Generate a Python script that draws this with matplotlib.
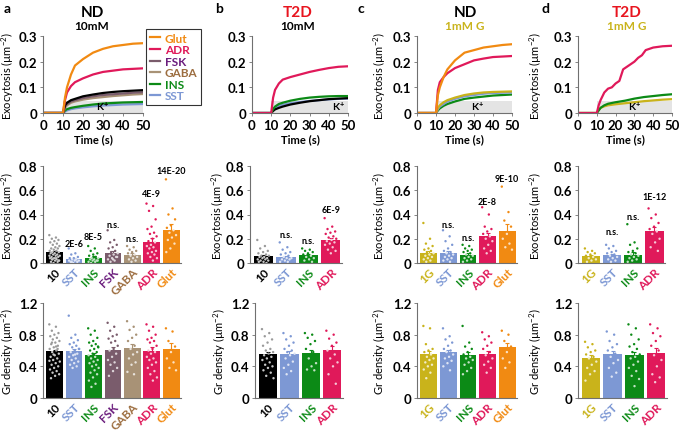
import matplotlib
matplotlib.use("Agg")
import matplotlib.pyplot as plt
from matplotlib.lines import Line2D
from matplotlib.colors import to_rgb

plt.rcParams['font.family'] = ['Lato', 'DejaVu Sans']
plt.rcParams['mathtext.default'] = 'regular'

W, H = 681, 431

# ---------------- colours ----------------
C_10 = '#000000'
C_SST = '#7d98d4'
C_INS = '#0c8a16'
C_FSK = '#7a5c6c'
C_GABA = '#a89276'
C_ADR = '#e0195a'
C_GLUT = '#f18a12'
C_1G = '#c9b31b'
T_FSK = '#6b1d7d'
T_GABA = '#9c6d3f'
C_T2D = '#e8141e'

# ---------------- traces (top row) ----------------
t = [0, 10, 11, 12, 14, 16, 20, 25, 30, 35, 40, 45, 50]

a_glut = [0, 0, 0.06, 0.10, 0.15, 0.185, 0.21, 0.235, 0.25, 0.26, 0.265, 0.27, 0.272]
a_adr = [0, 0, 0.05, 0.08, 0.105, 0.12, 0.135, 0.15, 0.16, 0.165, 0.17, 0.172, 0.174]
a_10 = [0, 0, 0.03, 0.04, 0.05, 0.055, 0.065, 0.072, 0.078, 0.082, 0.085, 0.087, 0.089]
a_fsk = [0, 0, 0.025, 0.035, 0.045, 0.05, 0.058, 0.065, 0.07, 0.073, 0.076, 0.079, 0.081]
a_gaba = [0, 0, 0.02, 0.03, 0.04, 0.045, 0.052, 0.058, 0.062, 0.066, 0.069, 0.072, 0.074]
a_ins = [0, 0, 0.01, 0.015, 0.02, 0.023, 0.028, 0.033, 0.037, 0.039, 0.041, 0.042, 0.043]
a_sst = [0, 0, 0.005, 0.01, 0.015, 0.018, 0.022, 0.026, 0.029, 0.031, 0.033, 0.034, 0.035]

b_adr = [0, 0, 0.06, 0.09, 0.115, 0.13, 0.14, 0.15, 0.16, 0.168, 0.175, 0.18, 0.182]
b_ins = [0, 0, 0.015, 0.025, 0.035, 0.04, 0.048, 0.055, 0.06, 0.063, 0.065, 0.066, 0.066]
b_10 = [0, 0, 0.008, 0.014, 0.02, 0.025, 0.033, 0.04, 0.046, 0.05, 0.054, 0.056, 0.058]
b_sst = [0, 0, 0.01, 0.02, 0.028, 0.032, 0.038, 0.043, 0.047, 0.05, 0.053, 0.055, 0.056]

c_glut = [0, 0, 0.07, 0.10, 0.14, 0.17, 0.205, 0.235, 0.245, 0.255, 0.26, 0.265, 0.268]
c_adr = [0, 0, 0.09, 0.12, 0.14, 0.155, 0.175, 0.19, 0.205, 0.212, 0.218, 0.22, 0.222]
c_1g = [0, 0, 0.02, 0.03, 0.042, 0.05, 0.06, 0.07, 0.076, 0.08, 0.082, 0.083, 0.084]
c_sst = [0, 0, 0.015, 0.025, 0.035, 0.045, 0.055, 0.065, 0.07, 0.075, 0.078, 0.079, 0.08]
c_ins = [0, 0, 0.01, 0.018, 0.028, 0.035, 0.045, 0.055, 0.06, 0.064, 0.068, 0.07, 0.072]

t_d_adr = [0, 10, 11, 12, 14, 16, 18, 20, 22, 24, 26, 28, 30, 32, 34, 36, 38, 40, 45, 50]
d_adr = [0, 0, 0.03, 0.05, 0.08, 0.095, 0.10, 0.115, 0.125, 0.17, 0.18, 0.19, 0.20,
         0.215, 0.225, 0.245, 0.25, 0.255, 0.26, 0.262]
d_ins = [0, 0, 0.01, 0.02, 0.03, 0.036, 0.042, 0.048, 0.056, 0.062, 0.066, 0.07, 0.073]
d_1g = [0, 0, 0.012, 0.02, 0.026, 0.03, 0.034, 0.038, 0.042, 0.046, 0.049, 0.052, 0.054]

k_level = 0.048

# ---------------- exocytosis (middle row) ----------------
ma_labels = ['10', 'SST', 'INS', 'FSK', 'GABA', 'ADR', 'Glut']
ma_means = [0.09, 0.035, 0.045, 0.08, 0.07, 0.175, 0.275]
ma_sems = [0.008, 0.008, 0.009, 0.015, 0.012, 0.03, 0.045]
ma_sig = ['', '2E-6', '8E-5', 'n.s.', 'n.s.', '4E-9', '14E-20']
ma_pts = [
    [0.23, 0.21, 0.2, 0.19, 0.18, 0.17, 0.16, 0.15, 0.14, 0.13, 0.12, 0.12, 0.11, 0.1, 0.1, 0.09,
     0.09, 0.08, 0.08, 0.07, 0.07, 0.06, 0.06, 0.05, 0.05, 0.04, 0.04, 0.03, 0.03, 0.02, 0.02,
     0.01, 0.01, 0.0, 0.06, 0.04, 0.03, 0.02],
    [0.12, 0.08, 0.07, 0.05, 0.04, 0.04, 0.03, 0.03, 0.02, 0.02, 0.01, 0.01, 0.0, 0.02, 0.03, 0.01],
    [0.14, 0.12, 0.1, 0.08, 0.07, 0.06, 0.05, 0.04, 0.04, 0.03, 0.03, 0.02, 0.02, 0.01, 0.01, 0.0, 0.02, 0.05],
    [0.27, 0.19, 0.17, 0.15, 0.13, 0.12, 0.1, 0.09, 0.08, 0.07, 0.06, 0.05, 0.04, 0.03, 0.02, 0.01, 0.05, 0.03],
    [0.14, 0.13, 0.11, 0.1, 0.09, 0.08, 0.07, 0.06, 0.05, 0.04, 0.03, 0.02, 0.01],
    [0.49, 0.47, 0.43, 0.36, 0.3, 0.28, 0.25, 0.24, 0.22, 0.2, 0.18, 0.17, 0.15, 0.14, 0.13, 0.12,
     0.1, 0.09, 0.08, 0.07, 0.05, 0.04, 0.02],
    [0.69, 0.45, 0.4, 0.36, 0.31, 0.29, 0.27, 0.25, 0.23, 0.21, 0.19, 0.16, 0.12, 0.09],
]

mb_labels = ['10', 'SST', 'INS', 'ADR']
mb_means = [0.055, 0.05, 0.065, 0.19]
mb_sems = [0.008, 0.01, 0.01, 0.02]
mb_sig = ['', 'n.s.', 'n.s.', '6E-9']
mb_pts = [
    [0.19, 0.14, 0.12, 0.1, 0.09, 0.08, 0.07, 0.06, 0.06, 0.05, 0.05, 0.04, 0.04, 0.03, 0.03, 0.02,
     0.02, 0.01, 0.01, 0.0],
    [0.17, 0.13, 0.11, 0.09, 0.08, 0.07, 0.06, 0.05, 0.04, 0.04, 0.03, 0.03, 0.02, 0.01, 0.01],
    [0.12, 0.11, 0.1, 0.09, 0.08, 0.07, 0.06, 0.05, 0.04, 0.03, 0.02, 0.01],
    [0.37, 0.3, 0.28, 0.26, 0.25, 0.24, 0.22, 0.21, 0.2, 0.19, 0.18, 0.17, 0.16, 0.15, 0.13, 0.11, 0.1, 0.08],
]

mc_labels = ['1G', 'SST', 'INS', 'ADR', 'Glut']
mc_means = [0.085, 0.08, 0.07, 0.22, 0.265]
mc_sems = [0.015, 0.015, 0.01, 0.03, 0.055]
mc_sig = ['', 'n.s.', 'n.s.', '2E-8', '9E-10']
mc_pts = [
    [0.33, 0.2, 0.16, 0.14, 0.12, 0.11, 0.1, 0.09, 0.08, 0.07, 0.06, 0.05, 0.04, 0.03, 0.02, 0.01],
    [0.27, 0.22, 0.18, 0.15, 0.12, 0.1, 0.09, 0.08, 0.07, 0.06, 0.05, 0.04, 0.03, 0.02, 0.01],
    [0.15, 0.14, 0.12, 0.11, 0.1, 0.09, 0.08, 0.07, 0.06, 0.05, 0.04, 0.03, 0.02, 0.01],
    [0.46, 0.4, 0.3, 0.28, 0.26, 0.24, 0.22, 0.2, 0.18, 0.15, 0.12, 0.1, 0.08],
    [0.63, 0.42, 0.35, 0.3, 0.24, 0.2, 0.16, 0.13, 0.11],
]

md_labels = ['1G', 'SST', 'INS', 'ADR']
md_means = [0.055, 0.065, 0.07, 0.265]
md_sems = [0.008, 0.01, 0.02, 0.03]
md_sig = ['', 'n.s.', 'n.s.', '1E-12']
md_pts = [
    [0.12, 0.1, 0.09, 0.08, 0.07, 0.06, 0.05, 0.04, 0.03, 0.02, 0.01],
    [0.15, 0.14, 0.12, 0.1, 0.09, 0.08, 0.07, 0.06, 0.05, 0.04, 0.03, 0.02, 0.01],
    [0.32, 0.17, 0.15, 0.12, 0.1, 0.09, 0.08, 0.07, 0.06, 0.05, 0.04, 0.03, 0.02, 0.01],
    [0.45, 0.4, 0.37, 0.33, 0.3, 0.28, 0.26, 0.24, 0.2, 0.17, 0.13, 0.1],
]

# heights where the p-value labels sit (annotation layout)
ma_sig_y = [0, 0.164, 0.22, 0.32, 0.2, 0.57, 0.76]
mb_sig_y = [0, 0.235, 0.186, 0.44]
mc_sig_y = [0, 0.32, 0.21, 0.51, 0.70]
md_sig_y = [0, 0.26, 0.385, 0.55]

# ---------------- granule density (bottom row) ----------------
ga_means = [0.59, 0.59, 0.54, 0.61, 0.63, 0.60, 0.62]
ga_sems = [0.02, 0.03, 0.03, 0.04, 0.05, 0.04, 0.07]
ga_pts = [
    [0.93, 0.9, 0.85, 0.82, 0.8, 0.78, 0.76, 0.74, 0.72, 0.7, 0.68, 0.66, 0.64, 0.62, 0.6, 0.58, 0.56,
     0.54, 0.52, 0.5, 0.48, 0.46, 0.44, 0.42, 0.4, 0.38, 0.36, 0.34, 0.32, 0.3, 0.28, 0.25, 0.62,
     0.55, 0.47, 0.65, 0.7],
    [1.04, 0.8, 0.76, 0.73, 0.7, 0.68, 0.66, 0.64, 0.62, 0.6, 0.58, 0.56, 0.54, 0.52, 0.5, 0.48, 0.46,
     0.44, 0.42, 0.4, 0.38, 0.62, 0.55],
    [0.88, 0.85, 0.8, 0.76, 0.72, 0.7, 0.68, 0.66, 0.64, 0.62, 0.6, 0.58, 0.56, 0.54, 0.52, 0.5, 0.48,
     0.46, 0.44, 0.42, 0.4, 0.38, 0.35, 0.32, 0.3, 0.26, 0.22, 0.18, 0.14, 0.65, 0.55],
    [0.95, 0.9, 0.85, 0.8, 0.78, 0.75, 0.72, 0.7, 0.66, 0.62, 0.6, 0.56, 0.52, 0.48, 0.45, 0.42, 0.38, 0.34, 0.28],
    [0.97, 0.9, 0.86, 0.8, 0.76, 0.72, 0.66, 0.62, 0.58, 0.55, 0.5, 0.45, 0.42, 0.33, 0.3],
    [0.93, 0.9, 0.85, 0.8, 0.76, 0.74, 0.72, 0.7, 0.66, 0.62, 0.6, 0.58, 0.56, 0.52, 0.5, 0.48, 0.45,
     0.42, 0.38, 0.34, 0.3, 0.26, 0.22],
    [0.88, 0.84, 0.72, 0.65, 0.58, 0.5, 0.45, 0.38, 0.35],
]

gb_means = [0.55, 0.56, 0.57, 0.61]
gb_sems = [0.03, 0.03, 0.04, 0.05]
gb_pts = [
    [0.87, 0.82, 0.78, 0.74, 0.7, 0.66, 0.62, 0.6, 0.58, 0.56, 0.54, 0.52, 0.5, 0.48, 0.45, 0.42, 0.4,
     0.38, 0.35, 0.32, 0.28, 0.25],
    [0.82, 0.78, 0.74, 0.7, 0.66, 0.62, 0.6, 0.58, 0.56, 0.54, 0.5, 0.46, 0.42, 0.38, 0.34, 0.3],
    [0.82, 0.8, 0.76, 0.72, 0.68, 0.62, 0.58, 0.5, 0.44, 0.4, 0.36, 0.35],
    [0.85, 0.8, 0.75, 0.7, 0.66, 0.6, 0.55, 0.5, 0.45, 0.4, 0.3, 0.18],
]

gc_means = [0.56, 0.58, 0.54, 0.56, 0.64]
gc_sems = [0.04, 0.03, 0.04, 0.04, 0.06]
gc_pts = [
    [0.91, 0.88, 0.68, 0.62, 0.6, 0.58, 0.55, 0.52, 0.5, 0.48, 0.45, 0.42, 0.4, 0.36, 0.32, 0.25],
    [0.88, 0.78, 0.74, 0.7, 0.66, 0.62, 0.6, 0.58, 0.55, 0.52, 0.5, 0.47, 0.44, 0.4, 0.35],
    [0.91, 0.7, 0.65, 0.62, 0.58, 0.55, 0.52, 0.5, 0.48, 0.45, 0.42, 0.38, 0.34, 0.3],
    [0.83, 0.78, 0.74, 0.7, 0.66, 0.62, 0.58, 0.54, 0.5, 0.46, 0.42, 0.38, 0.32],
    [0.85, 0.8, 0.72, 0.65, 0.58, 0.5, 0.45, 0.38],
]

gd_means = [0.51, 0.55, 0.54, 0.57]
gd_sems = [0.03, 0.04, 0.04, 0.06]
gd_pts = [
    [0.71, 0.68, 0.64, 0.6, 0.58, 0.55, 0.52, 0.5, 0.46, 0.42, 0.38, 0.34, 0.3, 0.22],
    [0.84, 0.8, 0.72, 0.68, 0.64, 0.6, 0.56, 0.52, 0.48, 0.44, 0.38, 0.32, 0.27],
    [0.93, 0.88, 0.8, 0.74, 0.68, 0.65, 0.62, 0.58, 0.55, 0.52, 0.5, 0.46, 0.42, 0.38, 0.34, 0.28, 0.24, 0.15],
    [0.93, 0.88, 0.82, 0.78, 0.72, 0.66, 0.6, 0.54, 0.48, 0.4, 0.3, 0.26, 0.2],
]

BAR_COL = {'10': C_10, '1G': C_1G, 'SST': C_SST, 'INS': C_INS, 'FSK': C_FSK,
           'GABA': C_GABA, 'ADR': C_ADR, 'Glut': C_GLUT}
TXT_COL = dict(BAR_COL, FSK=T_FSK, GABA=T_GABA)

fig = plt.figure(figsize=(W / 100, H / 100), dpi=100)


def px_axes(x0, x1, ytop, ybot):
    return fig.add_axes([x0 / W, 1 - ybot / H, (x1 - x0) / W, (ybot - ytop) / H])


def style(ax, ylim, yticks, yticklabels):
    for s in ['top', 'right']:
        ax.spines[s].set_visible(False)
    for s in ['left', 'bottom']:
        ax.spines[s].set_color('#707070')
        ax.spines[s].set_linewidth(0.8)
    ax.set_ylim(*ylim)
    ax.set_yticks(yticks)
    ax.set_yticklabels(yticklabels, fontsize=9.5, fontweight='bold')
    ax.tick_params(axis='both', length=2, width=0.6, color='#707070', pad=2)


def set_ylabel(ax, text, xc):
    # xc = pixel x of the label's right edge
    ax.set_ylabel(text, fontsize=8)
    bb = ax.get_position()
    ax.yaxis.set_label_coords((xc / W - bb.x0) / bb.width, 0.5)


def line_panel(ax, traces, ktxt_x, ylab_x=None):
    ax.fill_between([10, 50], 0, k_level, color='#e4e4e4', lw=0, zorder=0)
    for tt, yy, col in traces:
        ax.plot(tt, yy, color=col, lw=1.6, zorder=2)
    ax.text(ktxt_x, 0.012, 'K$^{+}$', fontsize=7.5, fontweight='bold', ha='center', zorder=3)
    ax.set_xlim(0, 50)
    ax.set_xticks([0, 10, 20, 30, 40, 50])
    ax.set_xticklabels(['0', '10', '20', '30', '40', '50'], fontsize=9.5, fontweight='bold')
    style(ax, (0, 0.3), [0, 0.1, 0.2, 0.3], ['0', '0.1', '0.2', '0.3'])
    ax.set_xlabel('Time (s)', fontsize=8, fontweight='bold', labelpad=2)
    if ylab_x is not None:
        set_ylabel(ax, 'Exocytosis (µm$^{-2}$)', ylab_x)


def tint(col, f):
    r, g, b = to_rgb(col)
    return (r + (1 - r) * f, g + (1 - g) * f, b + (1 - b) * f)


def bar_panel(ax, labels, means, sems, pts, ylim, yticks, ytl, ylabel, ylab_x,
              sig=None, sig_y=None):
    n = len(labels)
    cols = [BAR_COL[l] for l in labels]
    ax.bar(range(n), means, width=0.86, color=cols, zorder=1)
    for i in range(n):
        ax.errorbar(i, means[i], yerr=[[0], [sems[i]]], color=cols[i],
                    lw=0.8, capsize=1.5, capthick=0.8, zorder=2)
        vals = pts[i]
        xs = [i + (((k * 0.618) % 1) - 0.5) * 0.55 for k in range(len(vals))]
        if labels[i] == '10':
            pc = ['#9a9a9a' if v > means[i] else '#c8c8c8' for v in vals]
        else:
            pc = [cols[i] if v > means[i] else tint(cols[i], 0.75) for v in vals]
        ax.scatter(xs, vals, s=3, c=pc, lw=0, zorder=3)
        if sig and sig[i]:
            ax.text(i, sig_y[i], sig[i], fontsize=6.5, fontweight='bold',
                    ha='center', va='center')
    ax.set_xlim(-0.6, n - 0.5)
    ax.set_xticks(range(n))
    ax.set_xticklabels(labels, rotation=45, ha='right', rotation_mode='anchor',
                       fontsize=8.5, fontweight='bold')
    for tl, l in zip(ax.get_xticklabels(), labels):
        tl.set_color(TXT_COL[l])
    style(ax, ylim, yticks, ytl)
    ax.tick_params(axis='x', length=0, pad=2)
    set_ylabel(ax, ylabel, ylab_x)


# ---- top row ----
ax = px_axes(43, 143, 37, 114)
line_panel(ax, [(t, a_sst, C_SST), (t, a_ins, C_INS), (t, a_gaba, C_GABA), (t, a_fsk, C_FSK),
                (t, a_10, C_10), (t, a_adr, C_ADR), (t, a_glut, C_GLUT)], 30, 16)
ax = px_axes(252, 348, 37, 114)
line_panel(ax, [(t, b_sst, C_SST), (t, b_10, C_10), (t, b_ins, C_INS), (t, b_adr, C_ADR)], 45)
ax = px_axes(417, 512, 37, 114)
line_panel(ax, [(t, c_ins, C_INS), (t, c_sst, C_SST), (t, c_1g, C_1G), (t, c_adr, C_ADR),
                (t, c_glut, C_GLUT)], 32, 388)
ax = px_axes(578, 672, 37, 114)
line_panel(ax, [(t, d_1g, C_1G), (t, d_ins, C_INS), (t_d_adr, d_adr, C_ADR)], 30, 544)

# ---- middle row ----
exo = 'Exocytosis (µm$^{-2}$)'
yt_m = ([0, 0.2, 0.4, 0.6, 0.8], ['0', '0.2', '0.4', '0.6', '0.8'])
bar_panel(px_axes(43, 181, 167, 264), ma_labels, ma_means, ma_sems, ma_pts, (0, 0.8), *yt_m, exo, 16,
          ma_sig, ma_sig_y)
bar_panel(px_axes(250, 342, 167, 264), mb_labels, mb_means, mb_sems, mb_pts, (0, 0.8), *yt_m, exo, 226,
          mb_sig, mb_sig_y)
bar_panel(px_axes(417, 517, 167, 264), mc_labels, mc_means, mc_sems, mc_pts, (0, 0.8), *yt_m, exo, 388,
          mc_sig, mc_sig_y)
bar_panel(px_axes(578, 665, 167, 264), md_labels, md_means, md_sems, md_pts, (0, 0.8), *yt_m, exo, 544,
          md_sig, md_sig_y)

# ---- bottom row ----
gr = 'Gr density (µm$^{-2}$)'
yt_b = ([0, 0.4, 0.8, 1.2], ['0', '0.4', '0.8', '1.2'])
bar_panel(px_axes(43, 181, 304, 399), ma_labels, ga_means, ga_sems, ga_pts, (0, 1.2), *yt_b, gr, 16)
bar_panel(px_axes(255, 343, 304, 399), mb_labels, gb_means, gb_sems, gb_pts, (0, 1.2), *yt_b, gr, 228)
bar_panel(px_axes(417, 517, 304, 399), mc_labels, gc_means, gc_sems, gc_pts, (0, 1.2), *yt_b, gr, 388)
bar_panel(px_axes(578, 667, 304, 399), md_labels, gd_means, gd_sems, gd_pts, (0, 1.2), *yt_b, gr, 544)

# ---- titles, panel letters ----
for x, letter in [(4, 'a'), (215, 'b'), (357, 'c'), (542, 'd')]:
    fig.text(x / W, 1 - 9 / H, letter, fontsize=10, fontweight='bold', va='center')
for x, cond, ccol, sub, scol in [(92, 'ND', 'black', '10mM', 'black'),
                                 (298, 'T2D', C_T2D, '10mM', 'black'),
                                 (465, 'ND', 'black', '1mM G', C_1G),
                                 (627, 'T2D', C_T2D, '1mM G', C_1G)]:
    fig.text(x / W, 1 - 13 / H, cond, fontsize=11, fontweight='bold', color=ccol,
             ha='center', va='center')
    fig.text(x / W, 1 - 26 / H, sub, fontsize=8.5, fontweight='bold', color=scol,
             ha='center', va='center')

# ---- legend ----
leg_labels = ['Glut', 'ADR', 'FSK', 'GABA', 'INS', 'SST']
leg_lines = [C_GLUT, C_ADR, C_FSK, C_GABA, C_INS, C_SST]
leg_text = [C_GLUT, C_ADR, T_FSK, T_GABA, C_INS, C_SST]
handles = [Line2D([0], [0], color=c, lw=1.6) for c in leg_lines]
leg = fig.legend(handles, leg_labels, loc='upper left', bbox_to_anchor=(146 / W, 1 - 30 / H),
                 frameon=True, fancybox=False, edgecolor='black', handlelength=0.9,
                 handletextpad=0.4, labelspacing=0.05, borderpad=0.3, borderaxespad=0,
                 prop={'weight': 'bold', 'size': 8.5}, labelcolor=leg_text)
leg.get_frame().set_linewidth(0.8)

fig.savefig('out.png', dpi=100)
